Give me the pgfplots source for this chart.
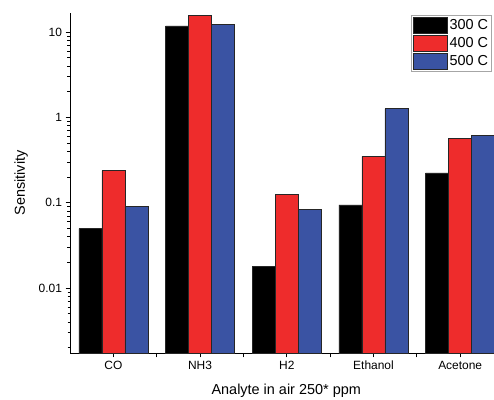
\documentclass[border=0pt]{standalone}
\usepackage{fontspec}
\setmainfont{Liberation Sans}
\usepackage{pgfplots}
\pgfplotsset{compat=1.18}
\definecolor{cred}{RGB}{238,44,44}
\definecolor{cblue}{RGB}{58,83,163}

\begin{document}
\begin{tikzpicture}
\useasboundingbox (0bp,0bp) rectangle (494bp,400bp);
\begin{axis}[
    at={(70bp,47bp)}, anchor=south west,
    scale only axis,
    width=424bp, height=340bp,
    ymode=log,
    log origin y=infty,
    ymin=0.00173, ymax=16.7,
    xmin=-0.5, xmax=4.39,
    axis x line=bottom, axis y line=left,
    axis line style={-, line width=0.8pt},
    ybar=0pt, bar width=23bp,
    xtick={0,1,2,3,4},
    xticklabels={CO,NH3,H2,Ethanol,Acetone},
    extra x ticks={0.5,1.5,2.5,3.5},
    extra x tick labels={},
    ytick={0.01,0.1,1,10},
    extra y ticks={0.002,0.003,0.004,0.005,0.006,0.007,0.008,0.009,
                 0.02,0.03,0.04,0.05,0.06,0.07,0.08,0.09,
                 0.2,0.3,0.4,0.5,0.6,0.7,0.8,0.9,
                 2,3,4,5,6,7,8,9},
    extra y tick labels={},
    extra y tick style={major tick length=2.5bp},
    log ticks with fixed point,
    /pgf/number format/assume math mode=true,
    tick align=outside,
    major tick length=4.5bp,
    tick style={black, line width=0.7pt},
    tick label style={font=\fontsize{12}{14}\selectfont},
    xlabel={Analyte in air 250* ppm},
    ylabel={Sensitivity},
    every axis x label/.style={at={(axis description cs:0.51,-0.112)}, anchor=center,
        font=\fontsize{14.5}{17}\selectfont},
    every axis y label/.style={at={(axis description cs:-0.115,0.5)}, rotate=90, anchor=center,
        font=\fontsize{14.5}{17}\selectfont},
    legend style={at={(0.995,0.994)}, anchor=north east, draw=gray!70,
        font=\fontsize{14.5}{17}\selectfont, inner sep=1.5bp, row sep=1.5bp,
        cells={anchor=west}},
    legend image code/.code={\draw[#1, draw=black!85] (0bp,-8bp) rectangle (34bp,8bp);},
    every axis plot/.append style={draw=black!85, line width=0.6pt},
    clip=false,
]
\addplot[fill=black] coordinates {(0,0.0496) (1,11.8) (2,0.0178) (3,0.094) (4,0.223)};
\addplot[fill=cred] coordinates {(0,0.237) (1,15.7) (2,0.124) (3,0.349) (4,0.567)};
\addplot[fill=cblue] coordinates {(0,0.090) (1,12.4) (2,0.084) (3,1.26) (4,0.61)};
\legend{300 C,400 C,500 C}
\end{axis}
\end{tikzpicture}
\end{document}
